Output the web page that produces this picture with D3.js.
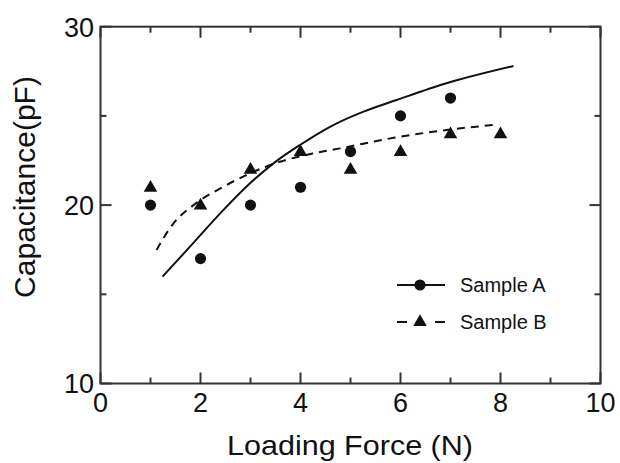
<!DOCTYPE html>
<html>
<head>
<meta charset="utf-8">
<script src="https://cdn.jsdelivr.net/npm/d3@7"></script>
<style>
  html, body { margin: 0; padding: 0; background: #fff; }
  svg { display: block; }
  text { font-family: "Liberation Sans", Arial, Helvetica, sans-serif; fill: #111; }
</style>
</head>
<body>
<svg id="chart" width="620" height="463"></svg>
<script>
// ---- data ----
const forceA = [1, 2, 3, 4, 5, 6, 7];
const capA   = [20, 17, 20, 21, 23, 25, 26];
const forceB = [1, 2, 3, 4, 5, 6, 7, 8];
const capB   = [21, 20, 22, 23, 22, 23, 24, 24];
// fitted curves
const fitAx = [1.24, 1.79, 2.46, 2.99, 3.46, 3.99, 4.59, 5.26, 5.92, 6.92, 8.26];
const fitAy = [15.99, 17.67, 19.73, 21.22, 22.34, 23.37, 24.39, 25.24, 25.89, 26.83, 27.8];
const fitBx = [1.12, 1.46, 1.86, 2.46, 2.99, 3.59, 4.26, 4.79, 5.92, 6.92, 7.86];
const fitBy = [17.48, 18.98, 20.0, 21.03, 21.78, 22.43, 22.9, 23.18, 23.8, 24.21, 24.49];
const xTicks = [0, 2, 4, 6, 8, 10];
const xMinor = [1, 3, 5, 7, 9];
const yTicks = [10, 20, 30];
const yMinor = [15, 25];
const seriesNames = ["Sample A", "Sample B"];

// ---- layout ----
const svg = d3.select("#chart");
const L = 100.5, R = 600.5, T = 26.7, B = 383.5;
const x = d3.scaleLinear().domain([0, 10]).range([L, R]);
const y = d3.scaleLinear().domain([10, 30]).range([B, T]);
const axisColor = "#333";

svg.append("rect").attr("width", 620).attr("height", 463).attr("fill", "#fff");

// frame
svg.append("rect")
  .attr("x", L).attr("y", T).attr("width", R - L).attr("height", B - T)
  .attr("fill", "none").attr("stroke", axisColor).attr("stroke-width", 2);

// ticks (inward on all sides)
const tickG = svg.append("g").attr("stroke", axisColor).attr("stroke-width", 2);
function xt(vals, len) {
  vals.forEach(v => {
    tickG.append("line").attr("x1", x(v)).attr("x2", x(v)).attr("y1", B).attr("y2", B - len);
    tickG.append("line").attr("x1", x(v)).attr("x2", x(v)).attr("y1", T).attr("y2", T + len);
  });
}
function yt(vals, len) {
  vals.forEach(v => {
    tickG.append("line").attr("y1", y(v)).attr("y2", y(v)).attr("x1", L).attr("x2", L + len);
    tickG.append("line").attr("y1", y(v)).attr("y2", y(v)).attr("x1", R).attr("x2", R - len);
  });
}
xt(xTicks, 11); xt(xMinor, 6);
yt(yTicks, 11); yt(yMinor, 6);

// tick labels
svg.append("g").selectAll("text").data(xTicks).join("text")
  .attr("x", d => x(d)).attr("y", 411.5)
  .attr("text-anchor", "middle").attr("font-size", 27).text(d => d);
svg.append("g").selectAll("text").data(yTicks).join("text")
  .attr("x", 94).attr("y", d => y(d) + 9.8)
  .attr("text-anchor", "end").attr("font-size", 27).text(d => d);

// axis titles
svg.append("text").attr("x", 350).attr("y", 455)
  .attr("text-anchor", "middle").attr("font-size", 28)
  .attr("textLength", 246).attr("lengthAdjust", "spacingAndGlyphs")
  .text("Loading Force (N)");
svg.append("text")
  .attr("transform", "translate(35,187) rotate(-90)")
  .attr("text-anchor", "middle").attr("font-size", 30)
  .text("Capacitance(pF)");

// curves
const line = d3.line().x(d => x(d[0])).y(d => y(d[1])).curve(d3.curveMonotoneX);
svg.append("path").datum(d3.zip(fitAx, fitAy)).attr("d", line)
  .attr("fill", "none").attr("stroke", "#111").attr("stroke-width", 2);
svg.append("path").datum(d3.zip(fitBx, fitBy)).attr("d", line)
  .attr("fill", "none").attr("stroke", "#111").attr("stroke-width", 2)
  .attr("stroke-dasharray", "8,6");

// markers
const circ = d3.symbol().type(d3.symbolCircle).size(Math.PI * 5.6 * 5.6);
const tri = d3.symbol().type(d3.symbolTriangle).size(80);
svg.append("g").selectAll("path").data(d3.zip(forceA, capA)).join("path")
  .attr("transform", d => `translate(${x(d[0])},${y(d[1])})`)
  .attr("d", circ).attr("fill", "#111");
svg.append("g").selectAll("path").data(d3.zip(forceB, capB)).join("path")
  .attr("transform", d => `translate(${x(d[0])},${y(d[1]) + 0.5})`)
  .attr("d", tri).attr("fill", "#111");

// legend
const lg = svg.append("g");
lg.append("line").attr("x1", 397).attr("x2", 445).attr("y1", 285).attr("y2", 285)
  .attr("stroke", "#111").attr("stroke-width", 2);
lg.append("path").attr("transform", "translate(420,285)").attr("d", circ).attr("fill", "#111");
lg.append("text").attr("x", 460).attr("y", 291.5).attr("font-size", 20).text(seriesNames[0]);
lg.append("line").attr("x1", 397).attr("x2", 407).attr("y1", 322).attr("y2", 322)
  .attr("stroke", "#111").attr("stroke-width", 2);
lg.append("line").attr("x1", 435).attr("x2", 445).attr("y1", 322).attr("y2", 322)
  .attr("stroke", "#111").attr("stroke-width", 2);
lg.append("path").attr("transform", "translate(420,322)").attr("d", tri).attr("fill", "#111");
lg.append("text").attr("x", 460).attr("y", 328.5).attr("font-size", 20).text(seriesNames[1]);
</script>
</body>
</html>
